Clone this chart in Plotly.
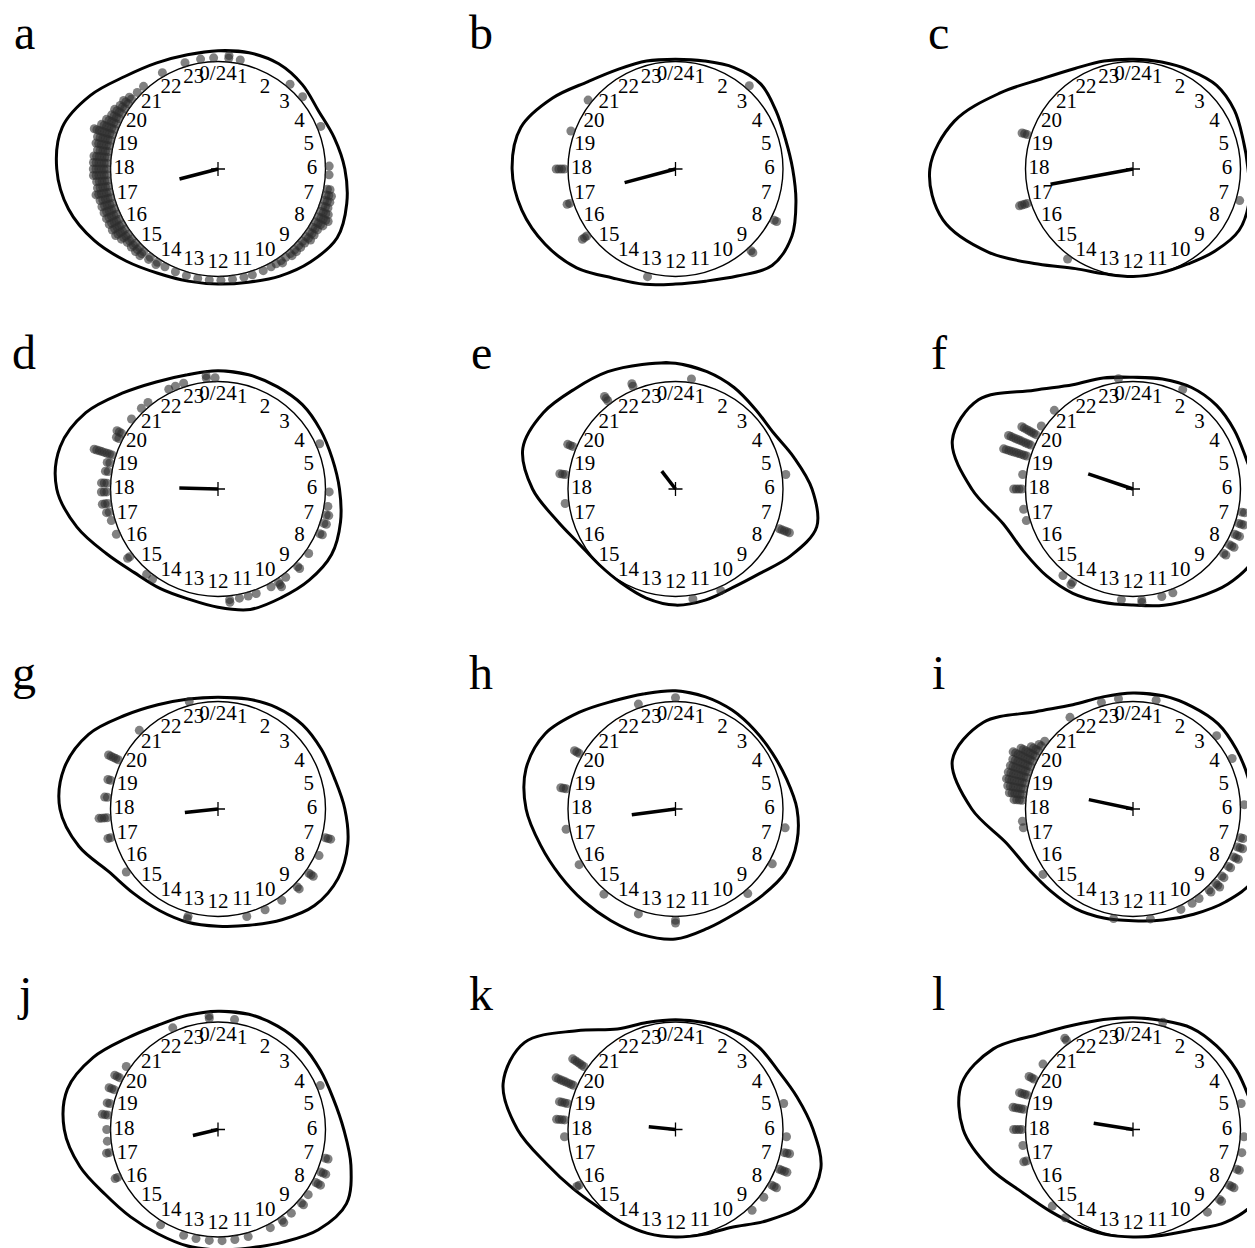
import numpy as np
import plotly.graph_objects as go

# ---------------- data ----------------
panel_letters = ["a", "b", "c", "d", "e", "f", "g", "h", "i", "j", "k", "l"]
hour_labels = ["0/24"] + [str(i) for i in range(1, 24)]
density_hours = list(range(24))

# density curve radius (circle radius = 1) at hours 0..23
dens_a = [1.10, 1.12, 1.13, 1.11, 1.08, 1.12, 1.18, 1.24, 1.28, 1.22, 1.15, 1.09, 1.07, 1.08, 1.12, 1.21, 1.33, 1.44, 1.50, 1.50, 1.37, 1.22, 1.14, 1.10]
dens_b = [1.02, 1.04, 1.09, 1.12, 1.08, 1.06, 1.09, 1.16, 1.25, 1.27, 1.15, 1.08, 1.07, 1.11, 1.17, 1.30, 1.40, 1.48, 1.52, 1.49, 1.32, 1.15, 1.07, 1.04]
dens_c = [1.02, 1.03, 1.06, 1.10, 1.09, 1.06, 1.07, 1.12, 1.14, 1.08, 1.02, 1.00, 1.00, 1.01, 1.07, 1.25, 1.55, 1.83, 1.89, 1.72, 1.42, 1.19, 1.08, 1.04]
dens_d = [1.10, 1.10, 1.10, 1.11, 1.10, 1.10, 1.13, 1.18, 1.22, 1.20, 1.17, 1.16, 1.10, 1.06, 1.07, 1.10, 1.20, 1.36, 1.50, 1.52, 1.42, 1.26, 1.15, 1.10]
dens_e = [1.17, 1.13, 1.09, 1.05, 1.05, 1.14, 1.27, 1.36, 1.24, 1.11, 1.06, 1.07, 1.08, 1.05, 1.01, 1.00, 1.03, 1.14, 1.33, 1.47, 1.42, 1.32, 1.26, 1.20]
dens_f = [1.04, 1.06, 1.09, 1.10, 1.09, 1.09, 1.15, 1.25, 1.30, 1.25, 1.17, 1.12, 1.08, 1.09, 1.12, 1.14, 1.17, 1.25, 1.50, 1.74, 1.66, 1.30, 1.12, 1.07]
dens_g = [1.04, 1.06, 1.09, 1.11, 1.11, 1.12, 1.18, 1.25, 1.29, 1.27, 1.19, 1.12, 1.09, 1.09, 1.09, 1.11, 1.17, 1.34, 1.47, 1.48, 1.39, 1.23, 1.12, 1.06]
dens_h = [1.10, 1.08, 1.06, 1.04, 1.04, 1.07, 1.13, 1.17, 1.18, 1.14, 1.12, 1.15, 1.21, 1.21, 1.20, 1.21, 1.24, 1.30, 1.39, 1.44, 1.40, 1.27, 1.16, 1.11]
dens_i = [1.08, 1.09, 1.10, 1.12, 1.11, 1.11, 1.12, 1.22, 1.30, 1.22, 1.13, 1.07, 1.04, 1.05, 1.07, 1.08, 1.12, 1.22, 1.50, 1.74, 1.61, 1.28, 1.12, 1.08]
dens_j = [1.10, 1.11, 1.11, 1.11, 1.10, 1.11, 1.17, 1.28, 1.38, 1.32, 1.21, 1.14, 1.12, 1.12, 1.12, 1.15, 1.21, 1.33, 1.43, 1.45, 1.34, 1.20, 1.12, 1.10]
dens_k = [1.02, 1.03, 1.06, 1.09, 1.10, 1.17, 1.28, 1.40, 1.38, 1.20, 1.05, 1.01, 1.00, 1.00, 1.00, 1.02, 1.10, 1.24, 1.47, 1.66, 1.62, 1.30, 1.08, 1.03]
dens_l = [1.04, 1.05, 1.09, 1.10, 1.11, 1.12, 1.18, 1.28, 1.32, 1.22, 1.08, 1.02, 1.00, 1.01, 1.03, 1.08, 1.18, 1.38, 1.58, 1.65, 1.50, 1.25, 1.12, 1.06]

# observed times (hour) and number of stacked observations at that time
pts_a_hours = [22.0, 22.85, 23.4, 23.85, 0.37, 0.77, 2.69, 3.3, 4.5, 5.9, 6.2,
               6.7, 6.9, 7.1, 7.3, 7.5, 7.7, 7.9, 8.1, 8.3, 8.5, 8.7, 8.9, 9.1, 9.3, 9.5, 9.7, 9.9, 10.1, 10.4,
               10.8, 11.1, 11.5, 11.9, 12.3, 12.7, 13.1, 13.5, 13.9, 14.2,
               14.5, 14.8, 15.0, 15.2, 15.4, 15.6, 15.8, 16.0, 16.2, 16.4, 16.6, 16.8, 17.0, 17.2, 17.4, 17.6,
               17.8, 18.0, 18.2, 18.4, 18.6, 18.8, 19.0, 19.2, 19.4, 19.6, 19.8, 20.0, 20.2, 20.4, 20.6, 20.9, 21.2]
pts_a_counts = [1, 1, 1, 1, 2, 1, 1, 1, 1, 1, 1,
                2, 3, 3, 3, 4, 5, 4, 3, 3, 3, 2, 2, 2, 2, 1, 2, 1, 1, 1,
                1, 1, 1, 1, 1, 1, 1, 1, 1, 2,
                2, 3, 3, 3, 3, 4, 5, 5, 5, 5, 5, 5, 5, 6, 5, 5,
                6, 6, 6, 6, 5, 6, 6, 8, 6, 5, 4, 4, 3, 3, 2, 1, 1]
pts_b_hours = [2.77, 7.83, 9.15, 12.97, 15.53, 16.8, 18.0, 19.33, 20.55]
pts_b_counts = [1, 2, 2, 1, 3, 2, 4, 1, 1]
pts_c_hours = [19.2, 16.8, 14.4, 7.1]
pts_c_counts = [3, 4, 1, 1]
pts_d_hours = [23.6, 23.9, 22.25, 22.5, 22.8, 21.4, 21.1, 20.6, 20.0, 19.8, 19.19, 18.9, 18.6, 18.2, 17.9, 17.5,
               17.2, 16.9, 16.4, 15.5, 14.66, 14.4, 11.6, 11.26, 10.95, 10.66, 10.1, 9.8, 9.5, 8.95, 8.36,
               7.58, 7.2, 6.9, 6.6, 6.1, 4.4]
pts_d_counts = [2, 1, 1, 1, 1, 1, 1, 1, 3, 2, 8, 2, 2, 3, 3, 3,
                2, 1, 1, 2, 1, 1, 2, 1, 1, 1, 1, 3, 1, 2, 1,
                2, 2, 2, 1, 1, 1]
pts_e_hours = [0.55, 22.5, 21.5, 19.5, 18.5, 17.5, 5.5, 7.4, 10.4, 11.4]
pts_e_counts = [1, 2, 3, 3, 3, 1, 1, 5, 1, 1]
pts_f_hours = [23.5, 1.77, 21.0, 20.3, 19.95, 19.55, 19.15, 18.5, 18.0, 17.3, 16.9, 14.6, 14.2, 12.4, 11.7,
               11.0, 10.6, 8.36, 8.0, 7.6, 7.2, 6.8]
pts_f_counts = [1, 1, 1, 1, 7, 10, 10, 1, 4, 1, 1, 1, 2, 1, 2,
                1, 1, 2, 3, 3, 3, 2]
pts_g_hours = [23.0, 21.0, 19.75, 19.0, 18.4, 17.7, 17.0, 15.7, 13.04, 11.0, 10.33, 9.67, 8.97, 8.35, 7.65, 7.0]
pts_g_counts = [1, 1, 5, 2, 2, 4, 2, 1, 2, 1, 1, 1, 2, 3, 1, 3]
pts_h_hours = [22.7, 0.0, 20.0, 18.7, 17.3, 16.0, 14.67, 13.3, 12.0, 9.3, 7.97, 6.65]
pts_h_counts = [1, 1, 3, 3, 1, 1, 1, 1, 2, 1, 1, 1]
pts_i_hours = [23.5, 0.8, 22.9, 21.7, 3.25, 4.2, 5.85,
               18.3, 18.5, 18.7, 18.9, 19.1, 19.3, 19.5, 19.7, 19.9, 20.1, 20.3, 20.5,
               17.58, 17.35, 15.6,
               12.67, 11.4, 10.3, 9.86, 9.57, 9.12, 8.8, 8.47, 8.07, 7.7, 7.33, 7.0]
pts_i_counts = [1, 1, 1, 1, 1, 1, 1,
                4, 6, 7, 8, 8, 8, 8, 9, 7, 4, 2, 1,
                1, 1, 1,
                1, 1, 1, 1, 1, 2, 3, 2, 2, 3, 3, 2]
pts_j_hours = [23.7, 0.57, 22.4, 20.3, 19.85, 19.4, 18.9, 18.5, 18.0, 17.6, 17.2, 16.3, 14.07, 13.2, 12.76,
               12.3, 11.86, 11.42, 10.95, 10.13, 9.65, 9.25, 8.76, 8.39, 7.9, 7.5, 7.0, 4.45]
pts_j_counts = [2, 1, 1, 1, 3, 3, 2, 3, 1, 1, 2, 2, 1, 1, 1,
                1, 1, 1, 1, 1, 2, 1, 2, 1, 3, 3, 2, 1]
pts_k_hours = [20.3, 19.56, 18.9, 18.33, 17.75, 16.0, 5.1, 6.25, 6.8, 7.4, 8.0, 8.5, 9.1]
pts_k_counts = [6, 8, 4, 4, 1, 2, 1, 1, 3, 4, 3, 1, 1]
pts_l_hours = [21.55, 20.4, 19.8, 19.2, 18.7, 18.0, 17.45, 16.9, 15.1, 14.5, 9.2, 8.6, 8.0, 7.4, 6.8, 6.25, 5.1, 1.04]
pts_l_counts = [2, 1, 3, 4, 5, 4, 1, 2, 1, 1, 1, 2, 3, 2, 1, 1, 1, 1]

# mean direction (hour) and mean resultant length
mean_hour = [17.03, 17.0, 17.3, 18.1, 21.5, 19.25, 17.6, 17.5, 18.8, 17.1, 18.4, 18.6]
mean_rho = [0.37, 0.49, 0.78, 0.36, 0.21, 0.44, 0.31, 0.41, 0.42, 0.24, 0.25, 0.37]

densities = [dens_a, dens_b, dens_c, dens_d, dens_e, dens_f, dens_g, dens_h, dens_i, dens_j, dens_k, dens_l]
pts_hours = [pts_a_hours, pts_b_hours, pts_c_hours, pts_d_hours, pts_e_hours, pts_f_hours,
             pts_g_hours, pts_h_hours, pts_i_hours, pts_j_hours, pts_k_hours, pts_l_hours]
pts_counts = [pts_a_counts, pts_b_counts, pts_c_counts, pts_d_counts, pts_e_counts, pts_f_counts,
              pts_g_counts, pts_h_counts, pts_i_counts, pts_j_counts, pts_k_counts, pts_l_counts]

# ---------------- layout geometry ----------------
PAGE_W, PAGE_H = 1255, 1248
BODY_MARGIN = 8                     # default <body> margin of the html page
W, H = PAGE_W - BODY_MARGIN, PAGE_H - BODY_MARGIN
R = 107.5                           # px per unit radius
col_cx = [218 - BODY_MARGIN, 675.5 - BODY_MARGIN, 1133 - BODY_MARGIN]
row_cy = [169 - BODY_MARGIN, 489 - BODY_MARGIN, 809 - BODY_MARGIN, 1129.5 - BODY_MARGIN]
HALF_W, HALF_H = 225, 160
SERIF = "Liberation Serif, Times New Roman, serif"
DOT_R0, DOT_SEP = 1.035, 0.025
LABEL_R = 0.875


def to_xy(hours, radii):
    t = np.deg2rad(np.asarray(hours, dtype=float) * 15.0)
    r = np.asarray(radii, dtype=float)
    return r * np.sin(t), r * np.cos(t)


fig = go.Figure()
layout_axes = {}
annotations = []
shapes = []

for i in range(12):
    row, col = divmod(i, 3)
    cx, cy = col_cx[col], row_cy[row]
    ax = "" if i == 0 else str(i + 1)
    xref, yref = "x" + ax, "y" + ax

    x0p, x1p = max(0, cx - HALF_W), min(W, cx + HALF_W)
    y0p, y1p = max(0, cy - HALF_H), min(H, cy + HALF_H)
    layout_axes["xaxis" + ax] = dict(domain=[x0p / W, x1p / W], range=[(x0p - cx) / R, (x1p - cx) / R],
                                     visible=False, fixedrange=True)
    layout_axes["yaxis" + ax] = dict(domain=[1 - y1p / H, 1 - y0p / H], range=[(cy - y1p) / R, (cy - y0p) / R],
                                     visible=False, fixedrange=True)

    # unit circle
    shapes.append(dict(type="circle", xref=xref, yref=yref, x0=-1, x1=1, y0=-1, y1=1,
                       line=dict(color="black", width=1.4), layer="below"))

    # density curve (closed, wrapped for a smooth seam)
    d = densities[i]
    hh = [density_hours[-1]] + density_hours + density_hours[:2]
    rr = [d[-1]] + d + d[:2]
    dx, dy = to_xy(hh, rr)
    fig.add_trace(go.Scatter(x=dx, y=dy, xaxis=xref, yaxis=yref, mode="lines",
                             line=dict(color="black", width=3, shape="spline", smoothing=1.0),
                             hoverinfo="skip", showlegend=False))

    # stacked points
    ph, pr = [], []
    for h, n in zip(pts_hours[i], pts_counts[i]):
        for k in range(n):
            ph.append(h)
            pr.append(DOT_R0 + DOT_SEP * k)
    px_, py_ = to_xy(ph, pr)
    fig.add_trace(go.Scatter(x=px_, y=py_, xaxis=xref, yaxis=yref, mode="markers",
                             marker=dict(size=9, color="rgba(45,45,45,0.6)", line=dict(width=0)),
                             hoverinfo="skip", showlegend=False))

    # hour labels
    lx, ly = to_xy(density_hours, [LABEL_R] * 24)
    fig.add_trace(go.Scatter(x=lx, y=ly, xaxis=xref, yaxis=yref, mode="text", text=hour_labels,
                             textposition="middle center",
                             textfont=dict(family=SERIF, size=21, color="black"),
                             hoverinfo="skip", showlegend=False, cliponaxis=False))

    # mean resultant vector
    mx, my = to_xy([mean_hour[i]], [mean_rho[i]])
    fig.add_trace(go.Scatter(x=[0, mx[0]], y=[0, my[0]], xaxis=xref, yaxis=yref, mode="lines",
                             line=dict(color="black", width=3.5), hoverinfo="skip", showlegend=False))
    # centre mark
    fig.add_trace(go.Scatter(x=[0], y=[0], xaxis=xref, yaxis=yref, mode="markers",
                             marker=dict(symbol="cross-thin-open", size=10, color="black",
                                         line=dict(color="black", width=1.3)),
                             hoverinfo="skip", showlegend=False))

    # panel letter
    annotations.append(dict(text=panel_letters[i], xref="paper", yref="paper",
                            x=(cx - 194) / W, y=1 - (cy - 109) / H, xanchor="center", yanchor="bottom",
                            showarrow=False, borderpad=0,
                            font=dict(family=SERIF, size=48, color="black")))

fig.update_layout(width=W, height=H, margin=dict(l=0, r=0, t=0, b=0),
                  paper_bgcolor="white", plot_bgcolor="white", showlegend=False,
                  annotations=annotations, shapes=shapes, **layout_axes)

fig.write_html("out.html")
